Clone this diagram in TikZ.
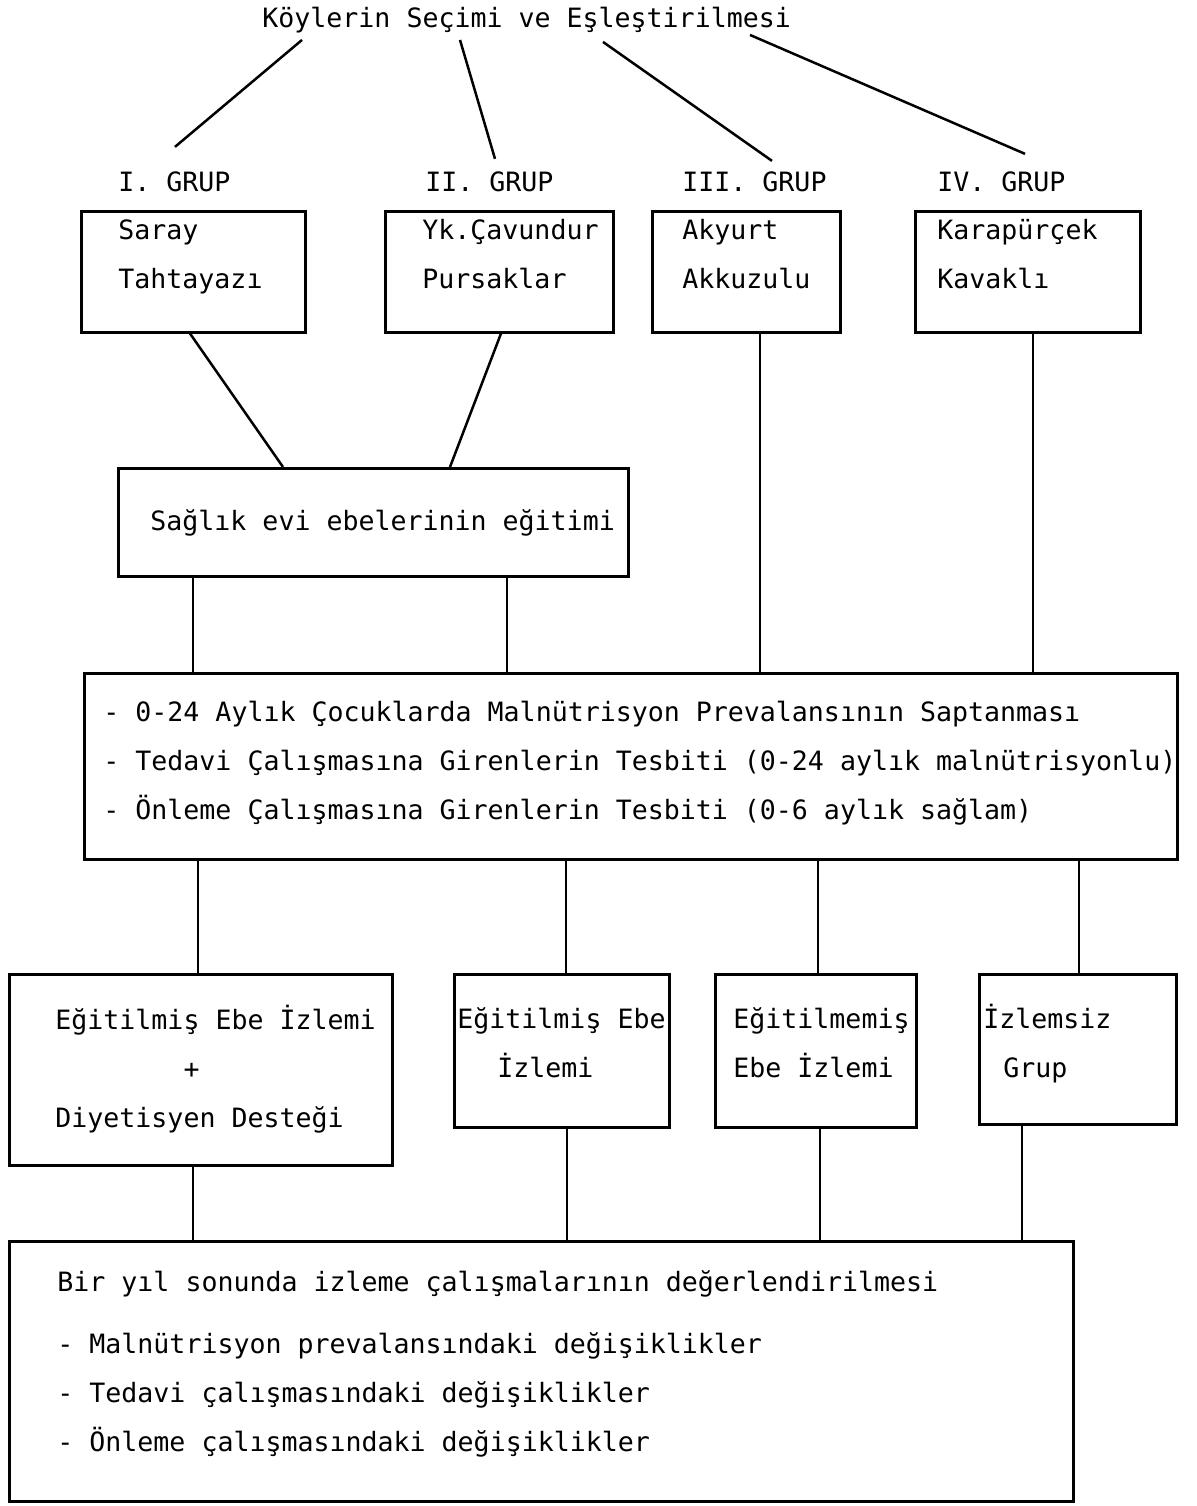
\documentclass[tikz,border=0pt]{standalone}
\usepackage{fontspec}
\newfontfamily\mono{DejaVu Sans Mono}
\usetikzlibrary{calc}
\tikzset{
  txt/.style={font={\mono\fontsize{13.3}{24.3}\selectfont}, anchor=base west, inner sep=0pt, align=left},
  frame/.style={draw, line width=1.25pt, anchor=north west, inner sep=0pt},
  link/.style={line width=1.25pt}
}

\begin{document}
\begin{tikzpicture}[x=0.5pt, y=-0.5pt]
    \useasboundingbox (0,0) rectangle (1196,1506);

    % Title and groups
    \node[txt] (title) at (262,27) {Köylerin Seçimi ve Eşleştirilmesi};
    \node[txt] (grp1) at (118,191) {I. GRUP};
    \node[txt] (grp2) at (425,191) {II. GRUP};
    \node[txt] (grp3) at (682,191) {III. GRUP};
    \node[txt] (grp4) at (937,191) {IV. GRUP};

    \draw[link] ($(title.south west)+(40,7)$) -- ($(grp1.north west)+(57,-24)$);
    \draw[link] ($(title.south west)+(198,7)$) -- ($(grp2.north west)+(70,-12)$);
    \draw[link] ($(title.south west)+(341,9)$) -- ($(grp3.north west)+(90,-10)$);
    \draw[link] ($(title.south west)+(488,2)$) -- ($(grp4.north west)+(88,-17)$);

    % Village boxes (multi-line text sits on its last baseline)
    \node[frame, minimum width=112pt, minimum height=60.5pt] (v1) at (80,210) {};
    \node[frame, minimum width=114pt, minimum height=60.5pt] (v2) at (384,210) {};
    \node[frame, minimum width=94pt, minimum height=60.5pt] (v3) at (651,210) {};
    \node[frame, minimum width=112.5pt, minimum height=60.5pt] (v4) at (914,210) {};
    \node[txt] (v1txt) at (118,288) {Saray\\Tahtayazı};
    \node[txt] (v2txt) at (422,288) {Yk.Çavundur\\Pursaklar};
    \node[txt] (v3txt) at (682,288) {Akyurt\\Akkuzulu};
    \node[txt] (v4txt) at (937,288) {Karapürçek\\Kavaklı};

    % Midwife training
    \node[frame, minimum width=255pt, minimum height=54pt] (train) at (117,467) {};
    \node[txt] (traintxt) at (150,530) {Sağlık evi ebelerinin eğitimi};

    \draw[link] ($(v1.south west)+(110,0)$) -- ($(train.north west)+(166,0)$);
    \draw[link] ($(v2.south west)+(117,0)$) -- ($(train.north west)+(333,0)$);

    % Prevalence screening
    \node[frame, minimum width=546.5pt, minimum height=93pt] (screen) at (83,672) {};
    \node[txt] (screentxt) at (103,819) {- 0-24 Aylık Çocuklarda Malnütrisyon Prevalansının Saptanması\\- Tedavi Çalışmasına Girenlerin Tesbiti (0-24 aylık malnütrisyonlu)\\- Önleme Çalışmasına Girenlerin Tesbiti (0-6 aylık sağlam)};

    \draw[link] ($(v3.south west)+(109,0)$) -- ($(screen.north west)+(677,0)$);
    \draw[link] ($(v4.south west)+(119,0)$) -- ($(screen.north west)+(950,0)$);
    \draw[link] ($(train.south west)+(76,0)$) -- ($(screen.north west)+(110,0)$);
    \draw[link] ($(train.south west)+(390,0)$) -- ($(screen.north west)+(424,0)$);

    % Follow-up groups
    \node[frame, minimum width=191.5pt, minimum height=95.5pt] (f1) at (8,973) {};
    \node[frame, minimum width=107.5pt, minimum height=76.5pt] (f2) at (453,973) {};
    \node[frame, minimum width=100.5pt, minimum height=76.5pt] (f3) at (714,973) {};
    \node[frame, minimum width=98.5pt, minimum height=75pt] (f4) at (978,973) {};
    \node[txt] (f1txt) at (55,1127) {Eğitilmiş Ebe İzlemi\\\phantom{xxxxxxxx}+\\Diyetisyen Desteği};
    \node[txt] (f2txt) at (457,1077) {Eğitilmiş Ebe\\\hspace*{20pt}İzlemi};
    \node[txt] (f3txt) at (733,1077) {Eğitilmemiş\\Ebe İzlemi};
    \node[txt] (f4txt) at (983,1077) {İzlemsiz\\\hspace*{10pt}Grup};

    \draw[link] ($(screen.south west)+(115,0)$) -- ($(f1.north west)+(190,0)$);
    \draw[link] ($(screen.south west)+(483,0)$) -- ($(f2.north west)+(113,0)$);
    \draw[link] ($(screen.south west)+(735,0)$) -- ($(f3.north west)+(104,0)$);
    \draw[link] ($(screen.south west)+(996,0)$) -- ($(f4.north west)+(101,0)$);

    % Evaluation
    \node[frame, minimum width=532pt, minimum height=130pt] (eval) at (8,1240) {};
    \node[txt] (evaltxt) at (57,1451) {Bir yıl sonunda izleme çalışmalarının değerlendirilmesi\\[7pt]- Malnütrisyon prevalansındaki değişiklikler\\- Tedavi çalışmasındaki değişiklikler\\- Önleme çalışmasındaki değişiklikler};

    \draw[link] ($(f1.south west)+(185,0)$) -- ($(eval.north west)+(185,0)$);
    \draw[link] ($(f2.south west)+(114,0)$) -- ($(eval.north west)+(559,0)$);
    \draw[link] ($(f3.south west)+(106,0)$) -- ($(eval.north west)+(812,0)$);
    \draw[link] ($(f4.south west)+(44,0)$) -- ($(eval.north west)+(1014,0)$);
\end{tikzpicture}
\end{document}
